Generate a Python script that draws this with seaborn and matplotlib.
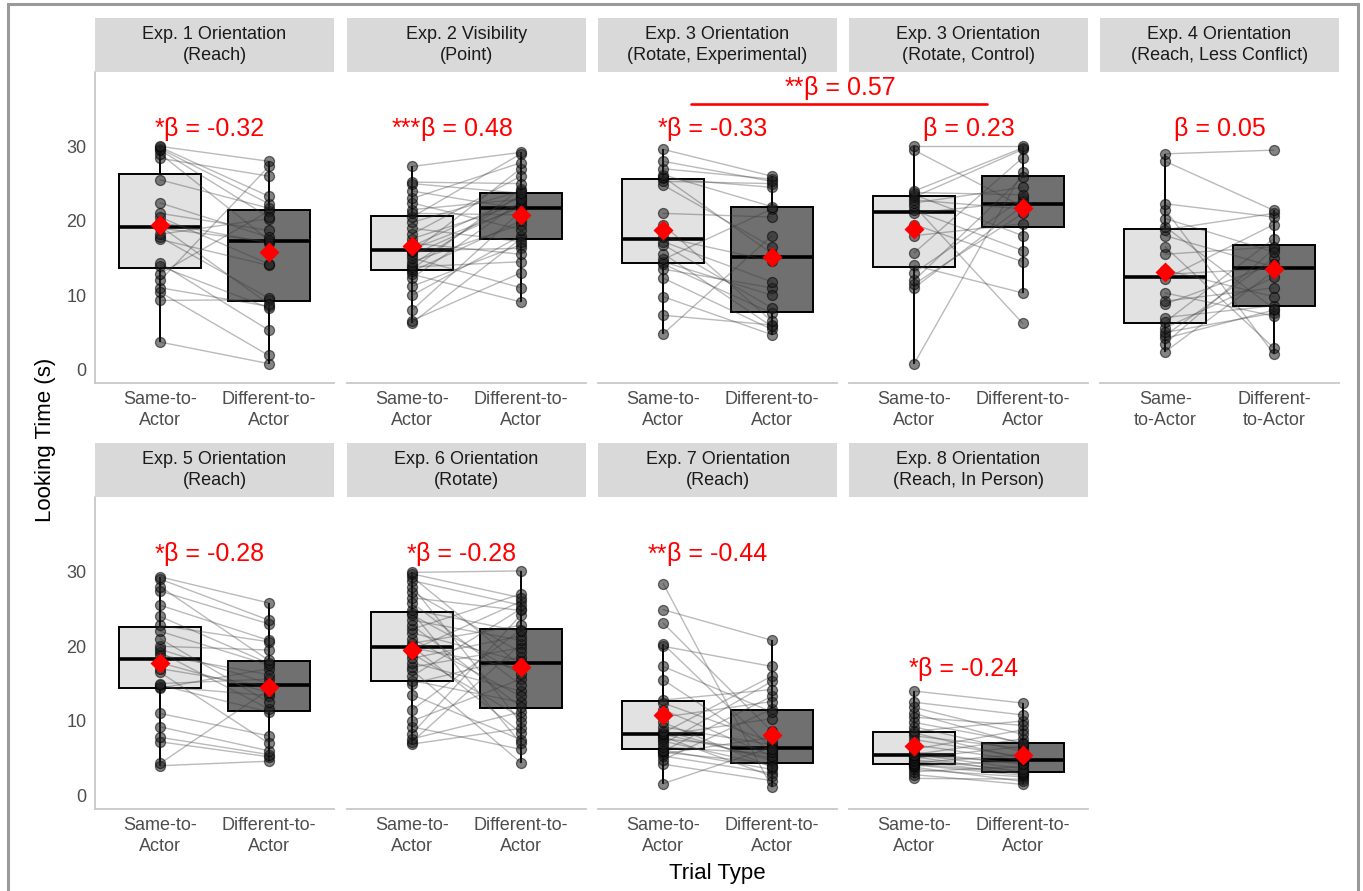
import matplotlib
matplotlib.use("Agg")
import matplotlib.pyplot as plt
import pandas as pd
import seaborn as sns
from matplotlib.patches import Rectangle

# looking times (s) per infant; same[i] and diff[i] are the same infant
exp1_same = [3.7, 9.3, 10.4, 11.0, 12.0, 12.9, 13.9, 14.3, 17.5, 17.8, 18.2, 19.0,
             19.3, 19.8, 20.5, 21.0, 22.4, 25.5, 28.4, 29.0, 29.5, 29.7, 29.9, 30.0]
exp1_diff = [0.8, 9.4, 1.9, 8.5, 27.3, 21.3, 8.3, 5.3, 14.0, 9.6, 20.3, 17.2,
             8.8, 17.0, 14.2, 18.7, 17.8, 21.7, 26.0, 17.4, 20.5, 22.3, 23.3, 28.0]

exp2_same = [6.3, 6.6, 8.0, 10.0, 11.2, 12.3, 12.8, 13.2, 13.5, 13.8, 14.1, 14.5,
             15.0, 15.4, 15.8, 16.0, 16.2, 16.6, 17.0, 17.6, 18.2, 19.0, 19.8, 20.5,
             21.0, 21.5, 22.4, 23.0, 24.0, 25.0, 25.2, 27.3]
exp2_diff = [17.6, 13.0, 21.3, 18.0, 16.8, 22.6, 9.1, 20.0, 24.3, 14.5, 23.5, 19.5,
             11.0, 22.0, 27.0, 16.3, 21.8, 23.2, 15.5, 22.3, 26.0, 17.2, 24.0, 29.0,
             20.8, 22.9, 18.8, 27.8, 21.6, 23.7, 25.0, 29.2]

exp3e_same = [4.8, 7.3, 9.8, 12.3, 13.5, 14.2, 14.5, 14.8, 15.6, 16.8, 17.2,
              17.8, 19.5, 21.0, 24.8, 25.3, 25.7, 25.9, 26.2, 27.0, 28.0, 29.6]
exp3e_diff = [18.0, 6.0, 4.7, 5.4, 11.0, 7.6, 10.0, 21.6, 5.8, 8.3, 11.8,
              14.6, 6.5, 20.5, 16.5, 25.0, 24.5, 15.6, 21.9, 25.6, 25.3, 26.0]

exp3c_same = [0.8, 11.0, 11.5, 12.0, 13.0, 14.0, 15.7, 18.0, 19.5, 21.0,
              21.4, 22.0, 22.4, 22.8, 23.2, 23.5, 23.8, 24.0, 29.5, 30.0]
exp3c_diff = [26.6, 22.0, 21.0, 25.9, 23.0, 10.3, 28.5, 19.6, 14.5, 22.6,
              16.0, 6.2, 24.5, 21.6, 29.6, 18.0, 23.5, 29.8, 21.9, 30.0]

exp4_same = [2.4, 3.5, 4.2, 4.6, 5.0, 5.6, 6.4, 7.0, 8.8, 9.2, 10.3, 12.2,
             12.8, 13.4, 15.5, 16.5, 18.0, 18.8, 19.2, 20.3, 21.5, 22.3, 28.0, 29.0]
exp4_diff = [13.2, 16.2, 8.0, 15.0, 7.6, 12.4, 17.6, 8.6, 14.2, 11.0, 7.2, 19.5,
             13.6, 9.8, 16.5, 2.9, 13.8, 21.0, 8.2, 15.8, 2.1, 20.5, 21.4, 29.5]

exp5_same = [4.0, 4.3, 7.2, 7.8, 9.2, 11.0, 14.4, 14.6, 14.8, 15.0, 16.5, 17.0, 17.8,
             18.8, 19.2, 19.6, 20.0, 21.0, 22.0, 22.8, 24.0, 25.5, 27.4, 28.0, 29.0, 29.3]
exp5_diff = [4.6, 14.2, 5.2, 5.5, 6.0, 8.0, 17.0, 13.4, 11.2, 15.6, 7.0, 14.6, 13.8,
             16.2, 11.6, 15.0, 19.5, 12.5, 17.5, 20.6, 17.7, 20.8, 23.0, 18.1, 23.5, 25.8]

exp6_same = [6.9, 7.2, 7.6, 8.3, 9.2, 10.0, 11.5, 13.5, 15.0, 15.4, 16.0, 16.8,
             17.2, 17.8, 18.4, 19.0, 19.5, 19.8, 20.0, 20.4, 21.0, 21.8, 22.3, 22.8,
             23.5, 24.2, 24.5, 24.9, 25.8, 26.5, 27.3, 28.0, 28.8, 29.3, 29.7, 29.9]
exp6_diff = [9.0, 20.3, 11.2, 24.2, 6.2, 15.6, 22.2, 7.5, 18.6, 12.5, 25.0, 4.4,
             19.8, 14.0, 21.4, 10.5, 26.0, 17.0, 8.4, 22.8, 13.3, 18.0, 27.0, 11.9,
             20.8, 16.3, 7.0, 22.0, 14.8, 24.8, 19.2, 9.8, 25.5, 17.4, 26.5, 30.1]

exp7_same = [1.6, 4.2, 4.8, 5.3, 5.6, 5.8, 5.95, 6.1, 6.5, 6.9, 7.3, 7.6, 7.9, 8.1, 8.2,
             8.4, 8.7, 9.2, 9.8, 10.5, 11.5, 12.4, 12.8, 15.5, 17.3, 20.0, 20.3, 23.1, 24.9, 28.4]
exp7_diff = [6.5, 2.0, 11.6, 3.0, 7.8, 4.3, 13.3, 3.5, 5.6, 15.3, 4.0, 6.2, 2.6, 10.3, 5.0,
             16.0, 4.7, 6.8, 3.8, 12.6, 5.3, 7.2, 14.2, 5.9, 11.2, 17.3, 6.3, 8.6, 20.8, 1.1]

exp8_same = [2.3, 2.8, 3.2, 3.5, 3.8, 4.0, 4.1, 4.2, 4.4, 4.6, 4.8, 5.0, 5.2, 5.4, 5.5,
             5.5, 5.8, 6.2, 6.8, 7.5, 8.0, 8.4, 8.6, 9.2, 9.8, 10.5, 11.0, 11.8, 12.5, 14.0]
exp8_diff = [2.2, 1.5, 3.9, 2.5, 1.9, 4.6, 2.7, 3.0, 5.5, 2.9, 3.3, 6.6, 3.1, 4.4, 7.6,
             3.6, 4.2, 8.8, 4.7, 5.2, 6.3, 4.9, 10.0, 5.9, 7.1, 9.4, 6.9, 8.2, 10.8, 12.4]

titles = ["Exp. 1 Orientation\n(Reach)", "Exp. 2 Visibility\n(Point)",
          "Exp. 3 Orientation\n(Rotate, Experimental)", "Exp. 3 Orientation\n(Rotate, Control)",
          "Exp. 4 Orientation\n(Reach, Less Conflict)", "Exp. 5 Orientation\n(Reach)",
          "Exp. 6 Orientation\n(Rotate)", "Exp. 7 Orientation\n(Reach)",
          "Exp. 8 Orientation\n(Reach, In Person)"]
betas = ["-0.32", "0.48", "-0.33", "0.23", "0.05", "-0.28", "-0.28", "-0.44", "-0.24"]
stars = ["*", "***", "*", "", "", "*", "*", "**", "*"]
between_beta, between_stars = "0.57", "**"

trial_order = ["Same", "Different"]
tick_labels = ["Same-to-\nActor", "Different-to-\nActor"]
tick_labels_alt = ["Same-\nto-Actor", "Different-\nto-Actor"]
y_ticks = [0, 10, 20, 30]

same_sets = [exp1_same, exp2_same, exp3e_same, exp3c_same, exp4_same,
             exp5_same, exp6_same, exp7_same, exp8_same]
diff_sets = [exp1_diff, exp2_diff, exp3e_diff, exp3c_diff, exp4_diff,
             exp5_diff, exp6_diff, exp7_diff, exp8_diff]

sns.set_theme(style="white")
plt.rcParams["font.family"] = ["Liberation Sans", "DejaVu Sans"]

W, H = 1363, 891
fig = plt.figure(figsize=(W / 100, H / 100), dpi=100)


def px_axes(x0, y0, w, h):
    return fig.add_axes([x0 / W, 1 - (y0 + h) / H, w / W, h / H])


lefts = [95, 347, 598, 849, 1100]
panel_w = 239
rows = [(72, 383), (497, 809)]
strip_h = 54
grey_txt = "#4D4D4D"

for i, (title, same, diff) in enumerate(zip(titles, same_sets, diff_sets)):
    r, c = divmod(i, 5)
    top, bottom = rows[r]
    ax = px_axes(lefts[c], top, panel_w, bottom - top)
    ax.set_facecolor("none")
    strip = px_axes(lefts[c], top - strip_h, panel_w, strip_h)

    n = len(same)
    df = pd.DataFrame({
        "pid": list(range(n)) * 2,
        "trial": ["Same"] * n + ["Different"] * n,
        "time": same + diff,
    })

    sns.boxplot(data=df, x="trial", y="time", hue="trial", order=trial_order,
                hue_order=trial_order, palette=["#E2E2E2", "#707070"], legend=False,
                width=0.75, showfliers=False, showcaps=False, linecolor="black",
                linewidth=1.4, medianprops=dict(linewidth=2.6), ax=ax)
    for s, d in zip(same, diff):
        ax.plot([0, 1], [s, d], color="#3a3a3a", alpha=0.35, lw=1.0, zorder=3)
    sns.stripplot(data=df, x="trial", y="time", order=trial_order, jitter=False,
                  color="#1f1f1f", alpha=0.55, size=7.2, linewidth=0.9,
                  edgecolor="black", zorder=4, ax=ax)
    n_lines = len(ax.lines)
    sns.pointplot(data=df, x="trial", y="time", order=trial_order, estimator="mean",
                  errorbar=None, color="red", markers="D", linestyles="none",
                  markersize=8.5, ax=ax)
    for ln in ax.lines[n_lines:]:
        ln.set_zorder(6)

    ax.set_xlim(-0.6, 1.6)
    ax.set_ylim(-1.8, 40)
    ax.set_xlabel("")
    ax.set_ylabel("")
    ax.set_xticks([0, 1])
    ax.set_xticklabels(tick_labels_alt if i == 4 else tick_labels, linespacing=1.3)
    for side in ["top", "right"]:
        ax.spines[side].set_visible(False)
    for side in ["left", "bottom"]:
        ax.spines[side].set_color("#C8C8C8")
        ax.spines[side].set_linewidth(1.3)
    ax.tick_params(axis="both", length=4, width=1.2, color="#333333",
                   labelcolor=grey_txt, labelsize=13, pad=2)
    if c == 0:
        ax.set_yticks(y_ticks)
    else:
        ax.spines["left"].set_visible(False)
        ax.tick_params(axis="y", left=False, labelleft=False)

    label_y = 17.0 if i == 8 else 32.3
    t = ax.text(0.5, label_y, f"β = {betas[i]}", color="red", fontsize=18,
                ha="center", va="center")
    if stars[i]:
        ax.annotate(stars[i], xy=(0, 0), xycoords=t, ha="right", va="bottom",
                    color="red", fontsize=18)

    if i == 2:
        ax.plot([0.256, 2.98], [35.7, 35.7], color="red", lw=1.9, clip_on=False,
                zorder=7)
        tb = ax.text(1.72, 37.9, f"β = {between_beta}", color="red", fontsize=18,
                     ha="center", va="center", zorder=7)
        ax.annotate(between_stars, xy=(0, 0), xycoords=tb, ha="right", va="bottom",
                    color="red", fontsize=18, zorder=7)

    strip.set_facecolor("#D9D9D9")
    strip.set_xticks([])
    strip.set_yticks([])
    for sp in strip.spines.values():
        sp.set_visible(False)
    strip.text(0.5, 0.5, title, ha="center", va="center", fontsize=13,
               color="#1A1A1A", linespacing=1.25)

fig.text(46 / W, 1 - 440 / H, "Looking Time (s)", rotation=90, ha="center",
         va="center", fontsize=16, color="black")
fig.text(717 / W, 1 - 874 / H, "Trial Type", ha="center", va="center",
         fontsize=16, color="black")

fig.add_artist(Rectangle((8 / W, -0.05), 1350 / W, 1.05 - 4 / H, fill=False,
                         edgecolor="#9A9A9A", lw=2.2, transform=fig.transFigure))

fig.savefig("out.png", dpi=100)
